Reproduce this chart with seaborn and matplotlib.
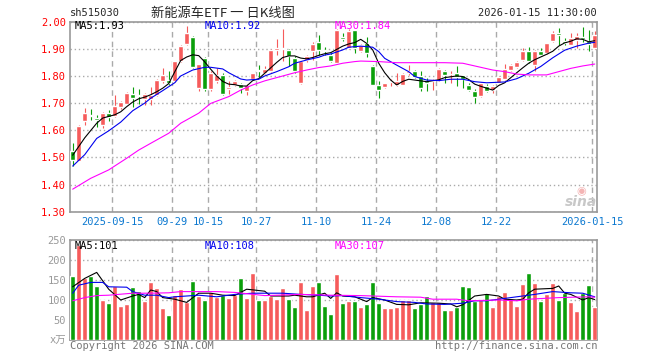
import numpy as np
import matplotlib
matplotlib.use("Agg")
import matplotlib.pyplot as plt
import seaborn as sns

sns.set_style("white")
plt.rcParams["font.family"] = ["DejaVu Sans Mono", "Noto Sans CJK SC"]

# ------------------------------------------------------------------
# data (88 trading days, 2025-09-04 .. 2026-01-15)
# ------------------------------------------------------------------
opens = [1.525, 1.488, 1.633, 1.655, 1.645, 1.621, 1.664, 1.651, 1.684, 1.697,
         1.734, 1.729, 1.716, 1.716, 1.730, 1.783, 1.786, 1.780, 1.854, 1.918,
         1.943, 1.754, 1.867, 1.752, 1.780, 1.802, 1.753, 1.768, 1.770, 1.746,
         1.790, 1.822, 1.811, 1.817, 1.897, 1.900, 1.897, 1.866, 1.774, 1.860,
         1.891, 1.925, 1.897, 1.876, 1.848, 1.943, 1.903, 1.968, 1.891, 1.922,
         1.835, 1.768, 1.758, 1.777, 1.766, 1.768, 1.811, 1.819, 1.799, 1.780,
         1.780, 1.786, 1.819, 1.806, 1.811, 1.802, 1.768, 1.746, 1.725, 1.762,
         1.750, 1.774, 1.790, 1.823, 1.832, 1.860, 1.891, 1.842, 1.891, 1.885,
         1.928, 1.958, 1.930, 1.915, 1.934, 1.942, 1.928, 1.903]
highs = [1.553, 1.620, 1.682, 1.680, 1.655, 1.666, 1.673, 1.729, 1.708, 1.740,
         1.758, 1.753, 1.737, 1.760, 1.788, 1.829, 1.820, 1.857, 1.915, 1.983,
         1.947, 1.846, 1.870, 1.818, 1.829, 1.810, 1.783, 1.787, 1.773, 1.772,
         1.812, 1.839, 1.835, 1.898, 1.937, 1.974, 1.901, 1.872, 1.857, 1.876,
         1.925, 1.952, 1.905, 1.885, 1.972, 1.958, 1.972, 1.970, 1.918, 1.942,
         1.839, 1.780, 1.776, 1.789, 1.811, 1.812, 1.842, 1.823, 1.817, 1.793,
         1.790, 1.829, 1.823, 1.817, 1.835, 1.805, 1.774, 1.753, 1.777, 1.770,
         1.768, 1.799, 1.844, 1.845, 1.854, 1.903, 1.906, 1.897, 1.903, 1.923,
         1.964, 1.977, 1.940, 1.958, 1.958, 1.979, 1.971, 1.967]
lows = [1.467, 1.485, 1.620, 1.639, 1.611, 1.608, 1.635, 1.648, 1.680, 1.695,
        1.686, 1.697, 1.692, 1.692, 1.725, 1.774, 1.768, 1.778, 1.850, 1.913,
        1.830, 1.746, 1.743, 1.745, 1.774, 1.730, 1.734, 1.762, 1.738, 1.729,
        1.786, 1.795, 1.808, 1.815, 1.878, 1.854, 1.836, 1.811, 1.770, 1.853,
        1.860, 1.878, 1.876, 1.853, 1.846, 1.930, 1.900, 1.885, 1.888, 1.869,
        1.765, 1.719, 1.755, 1.762, 1.763, 1.765, 1.805, 1.792, 1.746, 1.746,
        1.750, 1.783, 1.774, 1.774, 1.762, 1.756, 1.743, 1.700, 1.722, 1.740,
        1.737, 1.772, 1.786, 1.820, 1.830, 1.854, 1.848, 1.817, 1.876, 1.882,
        1.925, 1.915, 1.913, 1.913, 1.903, 1.925, 1.893, 1.900]
closes = [1.492, 1.617, 1.664, 1.651, 1.639, 1.664, 1.649, 1.688, 1.704, 1.737,
          1.719, 1.725, 1.732, 1.731, 1.786, 1.802, 1.774, 1.854, 1.912, 1.958,
          1.833, 1.845, 1.752, 1.812, 1.805, 1.734, 1.761, 1.783, 1.756, 1.768,
          1.811, 1.817, 1.827, 1.897, 1.903, 1.904, 1.872, 1.817, 1.854, 1.872,
          1.918, 1.897, 1.893, 1.856, 1.970, 1.937, 1.967, 1.903, 1.913, 1.885,
          1.768, 1.750, 1.774, 1.779, 1.780, 1.807, 1.817, 1.795, 1.756, 1.774,
          1.786, 1.827, 1.802, 1.809, 1.795, 1.790, 1.750, 1.721, 1.774, 1.743,
          1.764, 1.795, 1.827, 1.842, 1.850, 1.891, 1.856, 1.891, 1.879, 1.921,
          1.958, 1.950, 1.921, 1.940, 1.946, 1.937, 1.918, 1.952]
volumes = [160, 238, 154, 160, 135, 100, 93, 135, 85, 90,
           133, 122, 98, 145, 131, 81, 62, 112, 127, 96,
           147, 110, 100, 121, 108, 112, 106, 112, 156, 106,
           167, 100, 100, 111, 102, 131, 102, 83, 146, 75,
           135, 146, 85, 65, 165, 93, 98, 98, 83, 90,
           145, 93, 81, 81, 83, 100, 100, 81, 89, 110,
           96, 94, 75, 75, 82, 135, 132, 98, 100, 118,
           83, 110, 120, 106, 86, 140, 168, 143, 98, 115,
           143, 100, 117, 96, 73, 118, 138, 83]

# moving averages, read at sample days
ma5_idx = [0, 2, 4, 5, 7, 8, 9, 10, 11, 12, 13, 14, 15, 16, 17, 18, 19, 20, 21, 22,
           23, 24, 25, 26, 27, 28, 29, 30, 31, 32, 33, 34, 35, 36, 37, 38, 39, 40, 41, 42,
           43, 44, 45, 46, 47, 48, 49, 50, 51, 52, 53, 54, 55, 56, 57, 59, 61, 62, 64, 65,
           66, 67, 68, 69, 70, 71, 72, 74, 75, 76, 77, 78, 79, 80, 81, 82, 83, 84, 85, 86, 87]
ma5_val = [1.508, 1.572, 1.626, 1.645, 1.657, 1.668, 1.687, 1.704, 1.716, 1.722,
           1.731, 1.742, 1.755, 1.772, 1.815, 1.857, 1.870, 1.878, 1.875, 1.852,
           1.825, 1.800, 1.780, 1.770, 1.768, 1.763, 1.763, 1.783, 1.790, 1.810,
           1.830, 1.850, 1.868, 1.874, 1.874, 1.866, 1.863, 1.868, 1.876, 1.882,
           1.886, 1.898, 1.910, 1.918, 1.923, 1.935, 1.920, 1.896, 1.847, 1.812,
           1.785, 1.767, 1.780, 1.788, 1.785, 1.779, 1.786, 1.794, 1.800, 1.798,
           1.787, 1.770, 1.762, 1.755, 1.748, 1.765, 1.775, 1.812, 1.830, 1.847,
           1.860, 1.870, 1.880, 1.891, 1.910, 1.922, 1.928, 1.937, 1.935, 1.926, 1.930]
ma10_idx = [0, 2, 4, 6, 8, 10, 12, 13, 15, 17, 18, 20, 22, 23, 25, 26, 28, 29, 31, 32,
            34, 36, 37, 39, 41, 42, 43, 45, 46, 48, 50, 51, 52, 54, 56, 57, 59, 61, 63, 65,
            67, 69, 71, 72, 74, 76, 78, 80, 82, 84, 86, 87]
ma10_val = [1.468, 1.510, 1.570, 1.598, 1.630, 1.672, 1.700, 1.718, 1.746, 1.775,
            1.800, 1.822, 1.832, 1.832, 1.826, 1.812, 1.789, 1.785, 1.788, 1.800,
            1.816, 1.834, 1.847, 1.859, 1.869, 1.877, 1.881, 1.896, 1.906, 1.910,
            1.906, 1.890, 1.865, 1.840, 1.816, 1.798, 1.785, 1.783, 1.788, 1.788,
            1.779, 1.775, 1.777, 1.778, 1.790, 1.810, 1.835, 1.867, 1.895, 1.910,
            1.921, 1.924]
ma30_idx = [0, 3, 6, 9, 11, 13, 16, 18, 21, 23, 26, 28, 30, 32, 35, 37, 39, 41, 43, 45,
            47, 48, 51, 54, 57, 60, 62, 65, 67, 70, 72, 74, 76, 79, 81, 83, 85, 87]
ma30_val = [1.383, 1.423, 1.454, 1.497, 1.527, 1.552, 1.589, 1.626, 1.663, 1.699,
            1.724, 1.748, 1.767, 1.782, 1.800, 1.812, 1.822, 1.831, 1.837, 1.847,
            1.853, 1.855, 1.853, 1.849, 1.849, 1.849, 1.849, 1.847, 1.837, 1.822,
            1.816, 1.807, 1.804, 1.804, 1.816, 1.828, 1.837, 1.844]

vma5_idx = [0, 2, 4, 6, 8, 10, 11, 12, 13, 14, 15, 17, 19, 21, 23, 25, 27, 29, 32, 33,
            36, 37, 39, 40, 42, 43, 44, 45, 47, 49, 50, 52, 54, 56, 58, 61, 63, 64, 65, 67,
            69, 71, 72, 74, 75, 76, 77, 80, 81, 82, 83, 85, 86, 87]
vma5_val = [133, 154, 169, 127, 100, 110, 114, 106, 125, 121, 106, 102, 94, 117, 117,
            112, 111, 127, 122, 110, 110, 112, 108, 108, 117, 104, 118, 110, 108, 96,
            106, 100, 89, 88, 93, 92, 90, 83, 88, 110, 114, 110, 102, 100, 102, 118,
            127, 129, 135, 117, 114, 100, 106, 101]
vma10_idx = [0, 1, 3, 5, 6, 9, 10, 12, 14, 16, 17, 19, 21, 24, 27, 30, 32, 35, 38, 41,
             43, 45, 48, 51, 54, 57, 59, 62, 65, 67, 69, 73, 75, 77, 80, 83, 85, 87]
vma10_val = [117, 137, 144, 144, 133, 132, 121, 112, 112, 106, 108, 110, 112, 108, 114,
             117, 117, 117, 114, 112, 110, 111, 106, 102, 96, 94, 90, 89, 92, 98, 98,
             106, 110, 114, 121, 118, 117, 108]
vma30_idx = [0, 2, 4, 6, 10, 13, 16, 18, 21, 24, 27, 32, 38, 43, 48, 54, 58, 60, 64, 66,
             71, 74, 76, 81, 86, 87]
vma30_val = [98, 106, 111, 112, 117, 117, 118, 121, 121, 121, 119, 111, 114, 112, 111,
             108, 107, 102, 102, 98, 100, 98, 102, 106, 108, 107]

date_idx = [7, 17, 23, 31, 41, 51, 61, 71, 87]
date_labels = ["2025-09-15", "09-29", "10-15", "10-27", "11-10",
               "11-24", "12-08", "12-22", "2026-01-15"]
price_ticks = [1.30, 1.40, 1.50, 1.60, 1.70, 1.80, 1.90, 2.00]
vol_ticks = [0, 50, 100, 150, 200, 250]
vol_tick_labels = ["x万", "50", "100", "150", "200", "250"]

# ------------------------------------------------------------------
# layout
# ------------------------------------------------------------------
RED, GREEN = "#f65b5b", "#0a9f0a"
GRID = "#aaaaaa"
W, H = 660, 360
fig = plt.figure(figsize=(6.6, 3.6), dpi=100)
ax = fig.add_axes([70.3 / W, 1 - 211.7 / H, 527 / W, 190 / H])
axv = fig.add_axes([70.3 / W, 1 - 340 / H, 527 / W, 100 / H])

o, h, l, c = map(np.array, (opens, highs, lows, closes))
x = np.arange(len(o))
colors = np.where(c >= o, RED, GREEN)

# candles
ax.vlines(x, l, h, colors=colors, lw=0.8, zorder=3)
body = np.maximum(np.abs(c - o), 0.003)
ax.bar(x, body, bottom=np.minimum(o, c), width=0.78, color=colors, zorder=3)

# moving averages
for xi, yi, col in [(ma5_idx, ma5_val, "black"), (ma10_idx, ma10_val, "#0000ee"),
                    (ma30_idx, ma30_val, "#ff00ff")]:
    sns.lineplot(x=xi, y=yi, ax=ax, color=col, lw=0.8, zorder=4)

# volume
axv.bar(x, volumes, width=0.83, color=colors, zorder=3)
for xi, yi, col in [(vma5_idx, vma5_val, "black"), (vma10_idx, vma10_val, "#0000ee"),
                    (vma30_idx, vma30_val, "#ff00ff")]:
    sns.lineplot(x=xi, y=yi, ax=axv, color=col, lw=0.8, zorder=4)

grid_x = np.array(date_idx) - 0.4
for a in (ax, axv):
    a.set_xlim(-0.4, 87.43)
    a.set_xticks(grid_x)
    a.grid(True, axis="x", color=GRID, ls=(0, (4, 3)), lw=1)
    a.grid(True, axis="y", color=GRID, ls=(0, (1, 2)), lw=1)
    a.tick_params(length=0)
    a.set_xlabel("")
    a.set_ylabel("")
    for s in a.spines.values():
        s.set_color("#999999")
        s.set_linewidth(1.2)

ax.set_ylim(1.30, 2.00)
ax.set_yticks(price_ticks, [f"{v:.2f}" for v in price_ticks])
ax.set_xticklabels(date_labels)
ax.tick_params(axis="y", colors="#ff0000", labelsize=7.5, pad=3)
ax.tick_params(axis="x", colors="#0b78d0", labelsize=7.5, pad=4)

axv.set_ylim(0, 250)
axv.set_yticks(vol_ticks, vol_tick_labels)
axv.set_xticklabels([])
axv.tick_params(axis="y", colors="#999999", labelsize=7.5, pad=3)

# ------------------------------------------------------------------
# texts
# ------------------------------------------------------------------
def px(xp, yp):
    return xp / W, 1 - yp / H

fig.text(*px(70, 13), "sh515030", ha="left", va="center", fontsize=7.5)
fig.text(*px(223, 13), "新能源车ETF 一 日K线图", ha="center", va="center",
         fontsize=9.5, family=["Noto Sans CJK SC", "DejaVu Sans"])
fig.text(*px(597, 13), "2026-01-15 11:30:00", ha="right", va="center", fontsize=7.5)

fig.text(*px(75, 26), f"MA5:{ma5_val[-1]:.2f}", va="center", fontsize=7.5, color="black")
fig.text(*px(205, 26), f"MA10:{ma10_val[-1]:.2f}", va="center", fontsize=7.5, color="#0000ee")
fig.text(*px(335, 26), f"MA30:{ma30_val[-1]:.2f}", va="center", fontsize=7.5, color="#ff00ff")
fig.text(*px(75, 246), f"MA5:{vma5_val[-1]}", va="center", fontsize=7.5, color="black")
fig.text(*px(205, 246), f"MA10:{vma10_val[-1]}", va="center", fontsize=7.5, color="#0000ee")
fig.text(*px(335, 246), f"MA30:{vma30_val[-1]}", va="center", fontsize=7.5, color="#ff00ff")

fig.text(*px(70, 346), "Copyright 2026 SINA.COM", va="center", fontsize=7.5, color="#777777")
fig.text(*px(597, 346), "http://finance.sina.com.cn", ha="right", va="center",
         fontsize=7.5, color="#777777")

# sina watermark
fig.text(*px(581, 191), "◉", ha="center", va="center", fontsize=8, color="#f4b4b4",
         family="DejaVu Sans")
fig.text(*px(581, 202), "sina", ha="center", va="center", fontsize=10, color="#c8c8c8",
         style="italic", weight="bold", family="DejaVu Sans")

fig.savefig("out.png", dpi=100)
